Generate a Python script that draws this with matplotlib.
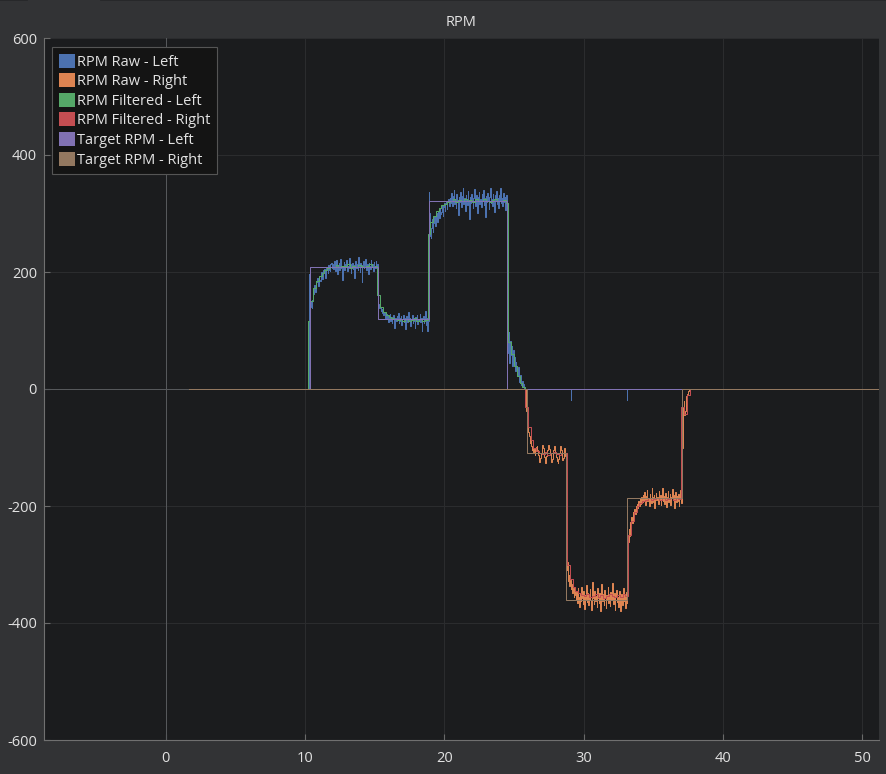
import matplotlib.pyplot as plt
import numpy as np
from matplotlib.patches import Patch
from matplotlib.lines import Line2D

plt.rcParams['font.family'] = ['Open Sans', 'DejaVu Sans']
plt.rcParams['axes.unicode_minus'] = False

fig_bg = '#323335'
ax_bg = '#1b1c1e'
text_col = '#e2e2e2'

series_names = ['RPM Raw - Left', 'RPM Raw - Right', 'RPM Filtered - Left',
                'RPM Filtered - Right', 'Target RPM - Left', 'Target RPM - Right']
series_colors = ['#4c72b0', '#dd8452', '#55a868', '#c44e52', '#8172b3', '#937860']

t_first = 1.7
t_last = 51.5

# raw left wheel, one sample every 0.05 s starting at 10.30 s
raw_left_start = 10.3
raw_left = [197, 172, 150, 141, 138, 152, 163, 171, 178, 166, 171, 183, 189, 176, 192, 186, 185,
            196, 200, 188, 196, 203, 205, 194, 190, 207, 209, 198, 212, 203, 201, 214, 215, 206,
            213, 205, 218, 209, 202, 221, 211, 196, 208, 215, 204, 223, 212, 207, 186, 210, 217, 203,
            214, 209, 220, 201, 211, 206, 224, 213, 198, 209, 216, 205, 212, 190, 208, 219, 207, 214,
            203, 226, 210, 200, 215, 208, 183, 212, 218, 206, 211, 222, 204, 209, 213, 197, 216, 210,
            205, 221, 208, 214, 202, 217, 211, 206, 219, 209, 214,
            152, 146, 139, 141, 133, 136, 130, 134, 127, 131,
            124, 119, 128, 121, 126, 115, 122, 129, 117, 123, 113, 120, 127, 118, 104, 121, 116, 125,
            119, 130, 112, 122, 117, 124, 109, 120, 126, 115, 121, 102, 118, 125, 114, 120, 131, 116,
            122, 108, 119, 127, 113, 121, 117, 105, 123, 118, 126, 111, 120, 116, 129, 114, 122, 100,
            119, 124, 112, 118, 133, 110, 121, 99, 116,
            337, 300, 262, 258, 275, 290, 268, 283, 296, 278, 290, 301, 286, 297, 305, 292, 310, 299,
            303, 314, 296, 311, 318, 305, 316, 322, 308, 319, 324, 312,
            327, 318, 335, 321, 312, 330, 341, 316, 325, 309, 333, 322, 297, 328, 319, 337, 324, 311,
            330, 344, 317, 326, 305, 332, 320, 315, 339, 323, 290, 329, 318, 334, 325, 310, 327, 342,
            319, 313, 331, 322, 300, 328, 336, 317, 324, 311, 333, 321, 340, 315, 326, 294, 330, 319,
            335, 323, 308, 329, 343, 318, 325, 312, 334, 320, 303, 331, 322, 338, 316, 327, 309, 332,
            321, 343, 318, 326, 313, 335, 320, 329, 306, 331, 312,
            108, 62, 98, 45, 82, 58, 74, 40, 66, 48, 55, 30, 47, 36, 22, 38, 26, 12, 24, 15, 6, 14,
            4, 8, 2, 0]
raw_left_spike_t = [29.1, 33.1]
raw_left_spike_v = [-18, -18]

# raw right wheel, every 0.05 s from 25.90 s
raw_right_start = 25.9
raw_right = [-38, -68, -62, -74, -80, -92, -88, -97, -104, -99, -108, -103,
             -112, -106, -99, -97, -104, -113, -121, -124, -118, -110, -101, -96, -100, -109,
             -117, -126, -122, -114, -105, -98, -95, -103, -111, -119, -125, -120, -112, -104,
             -97, -100, -108, -116, -123, -127, -119, -110, -102, -98, -105, -114, -121, -118,
             -109, -101, -115,
             -282, -310, -295, -328, -318, -336, -326, -342, -333, -349, -340, -356, -345, -352,
             -360, -347, -366, -341, -355, -372, -350, -362, -338, -357, -368, -345, -376, -352,
             -359, -335, -364, -349, -370, -356, -342, -361, -378, -351, -330, -358, -367, -346,
             -363, -354, -373, -340, -357, -365, -348, -379, -355, -333, -362, -350, -369, -344,
             -358, -375, -352, -361, -339, -366, -353, -371, -347, -360, -332, -357, -368, -349,
             -377, -354, -343, -364, -356, -372, -345, -361, -380, -350, -358, -369, -341, -363,
             -352, -374, -347, -366,
             -305, -262, -240, -251, -228, -236, -218, -229, -210, -221, -205, -214, -200, -209,
             -196, -204, -192, -200, -188, -197, -185, -194,
             -181, -192, -176, -189, -198, -183, -172, -191, -186, -200, -179, -188, -195, -170,
             -185, -193, -182, -203, -187, -177, -190, -184, -197, -174, -188, -181, -199, -186,
             -169, -192, -183, -196, -178, -189, -201, -184, -175, -193, -187, -180, -198, -185,
             -171, -190, -182, -204, -188, -176, -194, -183, -191, -179, -200, -186, -173, -195,
             -140, -100, -30, -20, -45, -38, -22, -12, -8, -4, -2, 0]

# filtered left, every 0.2 s from 10.3 s
filt_left_start = 10.3
filt_left = [116, 150, 172, 185, 193, 199, 203, 206, 208, 209, 212, 208, 211, 210, 213, 207, 211,
             209, 212, 210, 208, 211, 213, 209, 211,
             160, 140, 131, 126, 123, 121, 119, 118, 120, 117, 119, 116, 118, 121, 117, 119, 116, 118,
             265, 285, 296, 304, 310, 314, 317, 319,
             321, 324, 320, 323, 322, 325, 321, 323, 320, 324, 322, 321, 325, 322, 320, 323, 324,
             321, 322, 323, 318,
             80, 60, 40, 22, 10, 3, 0]

# filtered right, every 0.2 s from 25.9 s
filt_right_start = 25.9
filt_right = [-30, -65, -88, -100, -106, -109, -111, -108, -112, -110, -107, -111, -113, -109, -110,
              -300, -325, -338, -345, -349, -352,
              -354, -351, -356, -353, -350, -355, -352, -357, -353, -351, -354, -356, -352, -355,
              -350, -353,
              -250, -225, -210, -200, -195, -191,
              -189, -187, -190, -188, -186, -189, -187, -190, -188, -186, -189, -187, -188,
              -30, -42, -10, 0]

# setpoints (step changes)
target_left_t = [t_first, 10.33, 15.23, 18.89, 24.48, t_last]
target_left_v = [0, 208, 120, 322, 0, 0]
target_right_t = [t_first, 25.9, 28.74, 33.14, 37.04, t_last]
target_right_v = [0, -110, -360, -186, 0, 0]

x_range = (-8.72, 51.19)


def sampled(start, step, values):
    t = start + step * np.arange(len(values))
    return np.concatenate([[start - step], t]), np.concatenate([[0], values])


fig = plt.figure(figsize=(8.86, 7.74), dpi=100, facecolor=fig_bg)
ax = fig.add_axes([44 / 886, 1 - 740 / 774, 835 / 886, 702 / 774], facecolor=ax_bg)

lw = 0.72
line_kw = dict(lw=lw, drawstyle='steps-mid', snap=True)

t, v = sampled(raw_left_start, 0.05, raw_left)
ax.plot(t, v, color=series_colors[0], **line_kw)
for st, sv in zip(raw_left_spike_t, raw_left_spike_v):
    ax.plot([st, st], [0, sv], color=series_colors[0], lw=lw, snap=True)

t, v = sampled(raw_right_start, 0.05, raw_right)
ax.plot(t, v, color=series_colors[1], **line_kw)

t, v = sampled(filt_left_start, 0.2, filt_left)
ax.plot(t, v, color=series_colors[2], **line_kw)

t, v = sampled(filt_right_start, 0.2, filt_right)
ax.plot(t, v, color=series_colors[3], **line_kw)

ax.plot(target_left_t, target_left_v, color=series_colors[4], lw=lw,
        drawstyle='steps-post', snap=True)
ax.plot(target_right_t, target_right_v, color=series_colors[5], lw=lw,
        drawstyle='steps-post', snap=True)

ax.set_xlim(*x_range)
ax.set_ylim(-600, 600)
ax.set_xticks([0, 10, 20, 30, 40, 50])
ax.set_yticks([-600, -400, -200, 0, 200, 400, 600])
ax.grid(True, color='#2b2c2e', lw=lw)
ax.set_axisbelow(True)
# zero axes lines (the horizontal one is hidden under the series once data starts)
ax.hlines(0, x_range[0], t_first, color='#56585b', lw=lw, zorder=0.6)
ax.axvline(0, color='#56585b', lw=lw, zorder=0.6, snap=True)

for side in ['top', 'right']:
    ax.spines[side].set_visible(False)
for side in ['left', 'bottom']:
    ax.spines[side].set_color('#707070')
    ax.spines[side].set_linewidth(0.8)
ax.tick_params(direction='in', length=4, width=0.8, color='#6a6a6a',
               labelcolor=text_col, labelsize=10.5)
ax.tick_params(axis='y', pad=5)
ax.tick_params(axis='x', pad=8)

fig.text(461 / 886, 1 - 23 / 774, 'RPM', ha='center', va='center', color=text_col, fontsize=10.5)

# thin window border at the very top
for x0, x1 in [(0, 27 / 886), (101 / 886, 1)]:
    fig.add_artist(Line2D([x0, x1], [0.9995, 0.9995], color='#252628', lw=1.2,
                          transform=fig.transFigure))

handles = [Patch(facecolor=c, edgecolor='none') for c in series_colors]
leg = ax.legend(handles, series_names, loc='upper left', bbox_to_anchor=(8 / 835, 1 - 9 / 702),
                borderaxespad=0, fontsize=10.5, frameon=True, fancybox=False,
                facecolor='#141414', edgecolor='#555555', framealpha=1,
                handlelength=1.1, handleheight=1.1, handletextpad=0.17,
                labelspacing=0.25, borderpad=0.45)
leg.get_frame().set_linewidth(0.8)
for txt in leg.get_texts():
    txt.set_color(text_col)

fig.savefig('out.png', dpi=100, facecolor=fig_bg)
